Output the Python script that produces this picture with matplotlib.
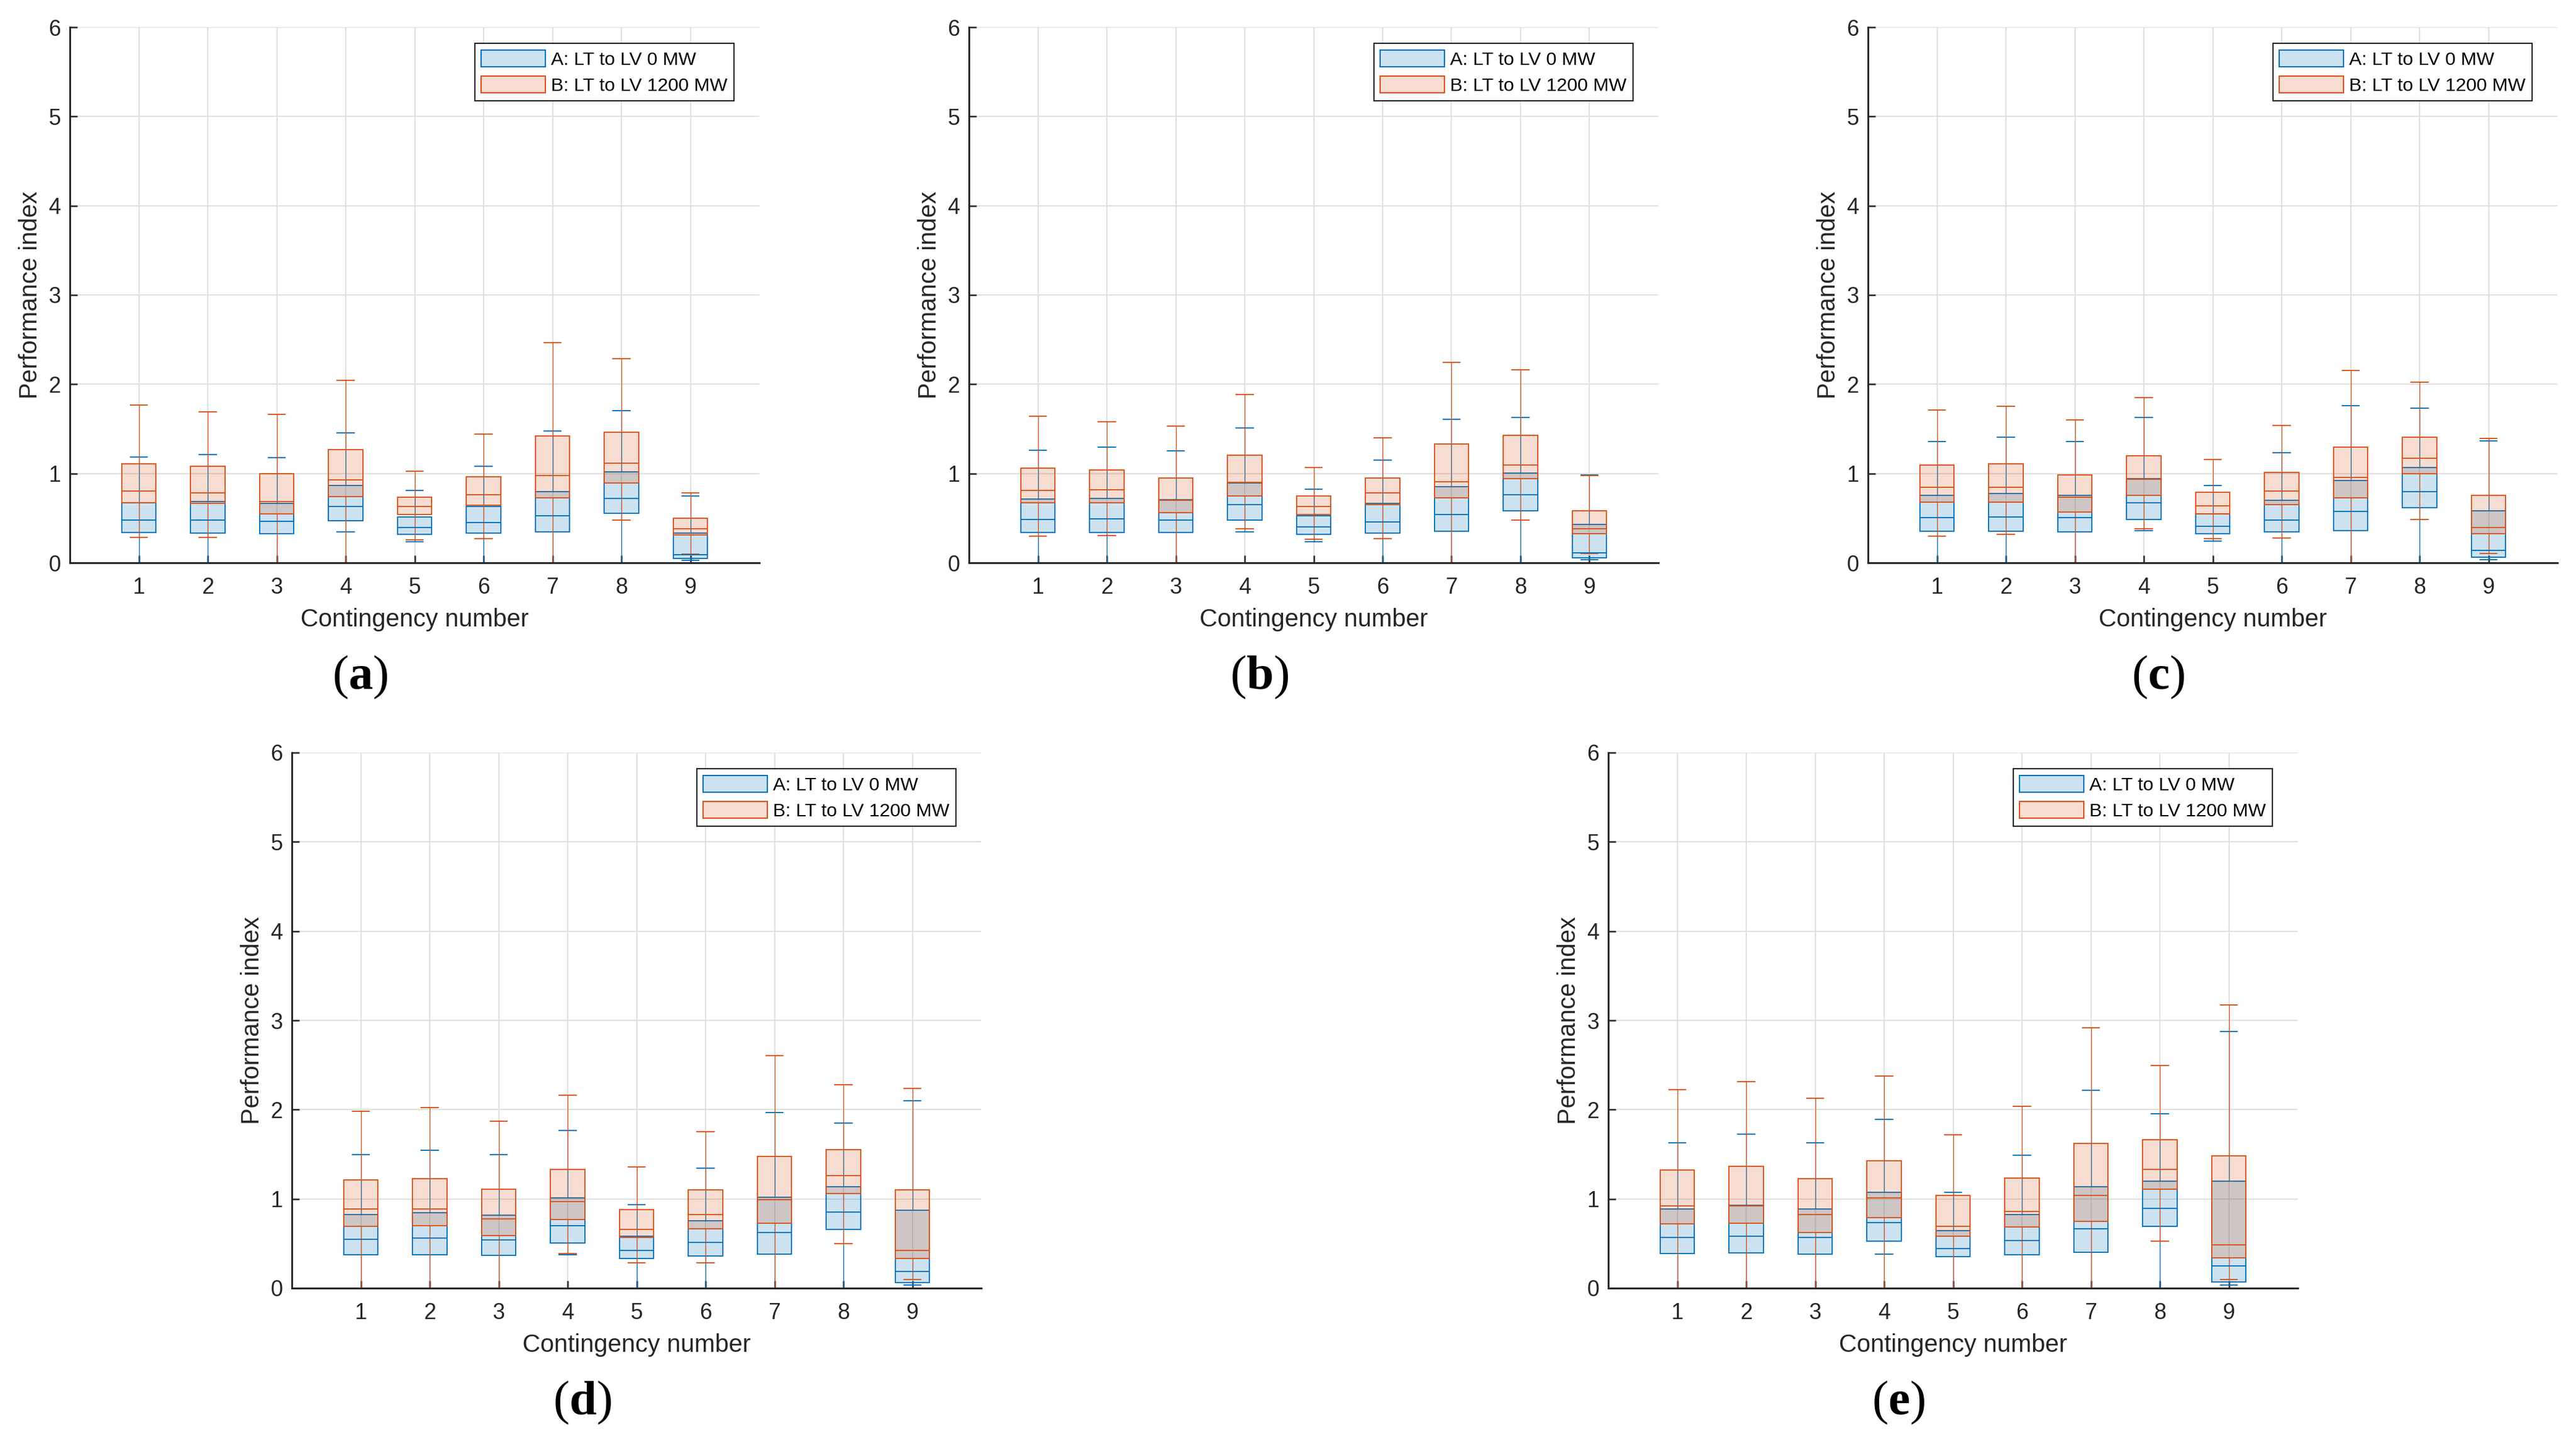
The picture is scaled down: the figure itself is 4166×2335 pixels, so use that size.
import matplotlib.pyplot as plt
from matplotlib.patches import Patch

# boxplot statistics, one row per panel (a)-(e),
# one column per contingency 1-9
panels = ['a', 'b', 'c', 'd', 'e']
contingencies = [1, 2, 3, 4, 5, 6, 7, 8, 9]
series_labels = ['A: LT to LV 0 MW', 'B: LT to LV 1200 MW']

# A: LT to LV 0 MW
A_lo = [[0, 0, 0, 0.344, 0.233, 0, 0, 0, 0.030],
        [0, 0, 0, 0.344, 0.233, 0, 0, 0, 0.032],
        [0, 0, 0, 0.358, 0.240, 0, 0, 0, 0.032],
        [0, 0, 0, 0.371, 0, 0, 0, 0, 0.032],
        [0, 0, 0, 0.383, 0, 0, 0, 0, 0.033]]
A_q1 = [[0.337, 0.330, 0.323, 0.469, 0.316, 0.330, 0.344, 0.552, 0.051],
        [0.337, 0.337, 0.337, 0.476, 0.316, 0.330, 0.351, 0.580, 0.053],
        [0.351, 0.351, 0.344, 0.483, 0.323, 0.344, 0.358, 0.614, 0.062],
        [0.371, 0.371, 0.364, 0.509, 0.336, 0.357, 0.378, 0.661, 0.060],
        [0.390, 0.397, 0.383, 0.527, 0.355, 0.376, 0.404, 0.693, 0.068]]
A_med = [[0.476, 0.476, 0.462, 0.628, 0.393, 0.448, 0.524, 0.718, 0.092],
         [0.483, 0.490, 0.476, 0.649, 0.400, 0.455, 0.538, 0.760, 0.109],
         [0.503, 0.510, 0.503, 0.670, 0.406, 0.476, 0.573, 0.794, 0.138],
         [0.544, 0.558, 0.537, 0.703, 0.426, 0.516, 0.624, 0.855, 0.184],
         [0.569, 0.583, 0.569, 0.735, 0.446, 0.534, 0.665, 0.894, 0.247]]
A_q3 = [[0.670, 0.684, 0.663, 0.864, 0.510, 0.628, 0.794, 1.016, 0.330],
        [0.711, 0.718, 0.704, 0.891, 0.524, 0.663, 0.850, 1.002, 0.427],
        [0.753, 0.774, 0.753, 0.940, 0.545, 0.697, 0.919, 1.065, 0.579],
        [0.827, 0.848, 0.820, 1.014, 0.585, 0.758, 1.021, 1.138, 0.876],
        [0.887, 0.929, 0.887, 1.074, 0.644, 0.824, 1.137, 1.197, 1.200]]
A_hi = [[1.182, 1.210, 1.176, 1.453, 0.808, 1.079, 1.473, 1.702, 0.746],
        [1.259, 1.293, 1.252, 1.508, 0.822, 1.148, 1.605, 1.626, 0.982],
        [1.356, 1.404, 1.356, 1.626, 0.864, 1.231, 1.757, 1.730, 1.363],
        [1.498, 1.546, 1.498, 1.767, 0.938, 1.346, 1.968, 1.850, 2.099],
        [1.631, 1.722, 1.631, 1.888, 1.074, 1.487, 2.219, 1.956, 2.875]]

# B: LT to LV 1200 MW
B_lo = [[0.282, 0.282, 0, 0, 0.254, 0.268, 0, 0.476, 0.099],
        [0.296, 0.303, 0, 0.379, 0.261, 0.268, 0, 0.476, 0.102],
        [0.296, 0.316, 0, 0.379, 0.268, 0.275, 0, 0.483, 0.102],
        [0, 0, 0, 0.385, 0.281, 0.281, 0, 0.500, 0.094],
        [0, 0, 0, 0, 0, 0, 0, 0.527, 0.098]]
B_q1 = [[0.670, 0.663, 0.545, 0.739, 0.538, 0.647, 0.725, 0.891, 0.309],
        [0.670, 0.670, 0.559, 0.746, 0.538, 0.649, 0.725, 0.940, 0.323],
        [0.677, 0.677, 0.566, 0.753, 0.545, 0.649, 0.725, 0.995, 0.323],
        [0.696, 0.703, 0.592, 0.772, 0.565, 0.668, 0.730, 1.062, 0.330],
        [0.721, 0.728, 0.623, 0.789, 0.583, 0.686, 0.749, 1.109, 0.341]]
B_med = [[0.801, 0.781, 0.684, 0.926, 0.628, 0.760, 0.975, 1.113, 0.379],
         [0.808, 0.815, 0.697, 0.898, 0.628, 0.781, 0.905, 1.092, 0.379],
         [0.843, 0.843, 0.732, 0.933, 0.635, 0.801, 0.954, 1.169, 0.393],
         [0.889, 0.889, 0.779, 0.972, 0.661, 0.827, 0.993, 1.263, 0.426],
         [0.919, 0.919, 0.824, 1.011, 0.693, 0.859, 1.039, 1.328, 0.485]]
B_q3 = [[1.106, 1.078, 0.995, 1.266, 0.732, 0.961, 1.418, 1.460, 0.497],
        [1.058, 1.037, 0.947, 1.203, 0.746, 0.947, 1.328, 1.425, 0.580],
        [1.092, 1.106, 0.982, 1.196, 0.788, 1.009, 1.293, 1.404, 0.753],
        [1.214, 1.228, 1.111, 1.332, 0.882, 1.104, 1.477, 1.553, 1.104],
        [1.321, 1.363, 1.228, 1.426, 1.039, 1.235, 1.620, 1.666, 1.480]]
B_hi = [[1.764, 1.688, 1.661, 2.042, 1.023, 1.439, 2.464, 2.284, 0.781],
        [1.640, 1.577, 1.529, 1.882, 1.065, 1.397, 2.243, 2.159, 0.975],
        [1.709, 1.751, 1.598, 1.848, 1.155, 1.536, 2.152, 2.021, 1.390],
        [1.982, 2.023, 1.871, 2.161, 1.359, 1.753, 2.604, 2.279, 2.237],
        [2.226, 2.315, 2.128, 2.378, 1.715, 2.040, 2.917, 2.495, 3.172]]

yticks = [0, 1, 2, 3, 4, 5, 6]

plt.rcParams['font.family'] = ['Liberation Sans', 'DejaVu Sans']
plt.rcParams['mathtext.fontset'] = 'custom'
plt.rcParams['mathtext.bf'] = 'Liberation Serif:bold'

W, H = 4166, 2335
fig = plt.figure(figsize=(W / 300, H / 300), dpi=300)

blue = '#0072BD'
orange = '#D95319'
dark = '#262626'
colors = [blue, orange]

# axes rectangles in pixels: left, top of plotting area
ax_w, ax_h = 1115, 866
corners = [(113, 44), (1567, 44), (3021, 44), (472, 1217), (2601, 1217)]


def stats_for(lo, q1, med, q3, hi):
    return [dict(whislo=lo[i], q1=q1[i], med=med[i], q3=q3[i], whishi=hi[i], fliers=[])
            for i in range(len(contingencies))]


def fill(c):
    rgb = plt.matplotlib.colors.to_rgb(c)
    return (rgb[0], rgb[1], rgb[2], 0.2)


for k, name in enumerate(panels):
    x0, y0 = corners[k]
    ax = fig.add_axes([x0 / W, 1 - (y0 + ax_h) / H, ax_w / W, ax_h / H])

    series = [stats_for(A_lo[k], A_q1[k], A_med[k], A_q3[k], A_hi[k]),
              stats_for(B_lo[k], B_q1[k], B_med[k], B_q3[k], B_hi[k])]
    for s, col in zip(series, colors):
        ax.bxp(s, positions=contingencies, widths=0.5, capwidths=0.25,
               patch_artist=True, showfliers=False, manage_ticks=False,
               boxprops=dict(facecolor=fill(col), edgecolor=col, linewidth=0.45),
               whiskerprops=dict(color=col, linewidth=0.3),
               capprops=dict(color=col, linewidth=0.45),
               medianprops=dict(color=col, linewidth=0.45),
               zorder=3)

    ax.set_xlim(0, 10)
    ax.set_ylim(0, 6)
    ax.set_xticks(contingencies)
    ax.set_yticks(yticks)
    ax.grid(True, color='#dfdfdf', linewidth=0.45)
    ax.set_axisbelow(True)
    for sp in ['top', 'right']:
        ax.spines[sp].set_visible(False)
    for sp in ['left', 'bottom']:
        ax.spines[sp].set_linewidth(0.7)
        ax.spines[sp].set_color(dark)
        ax.spines[sp].set_zorder(4)
    ax.tick_params(direction='in', length=2.9, width=0.6, color=dark,
                   labelcolor=dark, labelsize=8.6)
    ax.tick_params(axis='x', pad=5.5)
    ax.tick_params(axis='y', pad=3.5)
    ax.set_xlabel('Contingency number', fontsize=9.6, color=dark, labelpad=3.6)
    ax.set_ylabel('Performance index', fontsize=9.6, color=dark, labelpad=2.5)

    handles = [Patch(facecolor=fill(c), edgecolor=c, linewidth=0.5) for c in colors]
    leg = ax.legend(handles, series_labels, loc='upper right',
                    bbox_to_anchor=(0.963, 0.970), fontsize=7.3,
                    handlelength=3.4, handleheight=1.0, labelspacing=0.4,
                    handletextpad=0.3, borderpad=0.35, borderaxespad=0,
                    fancybox=False, framealpha=1)
    leg.get_frame().set_edgecolor(dark)
    leg.get_frame().set_linewidth(0.5)

    cx = (x0 + ax_w / 2 - 88) / W
    cy = 1 - (y0 + ax_h + 185) / H
    fig.text(cx, cy, '(' + r'$\mathbf{' + name + '}$' + ')', fontsize=19,
             family='Liberation Serif', ha='center', va='center', color='black')

fig.savefig('out.png', dpi=300)
